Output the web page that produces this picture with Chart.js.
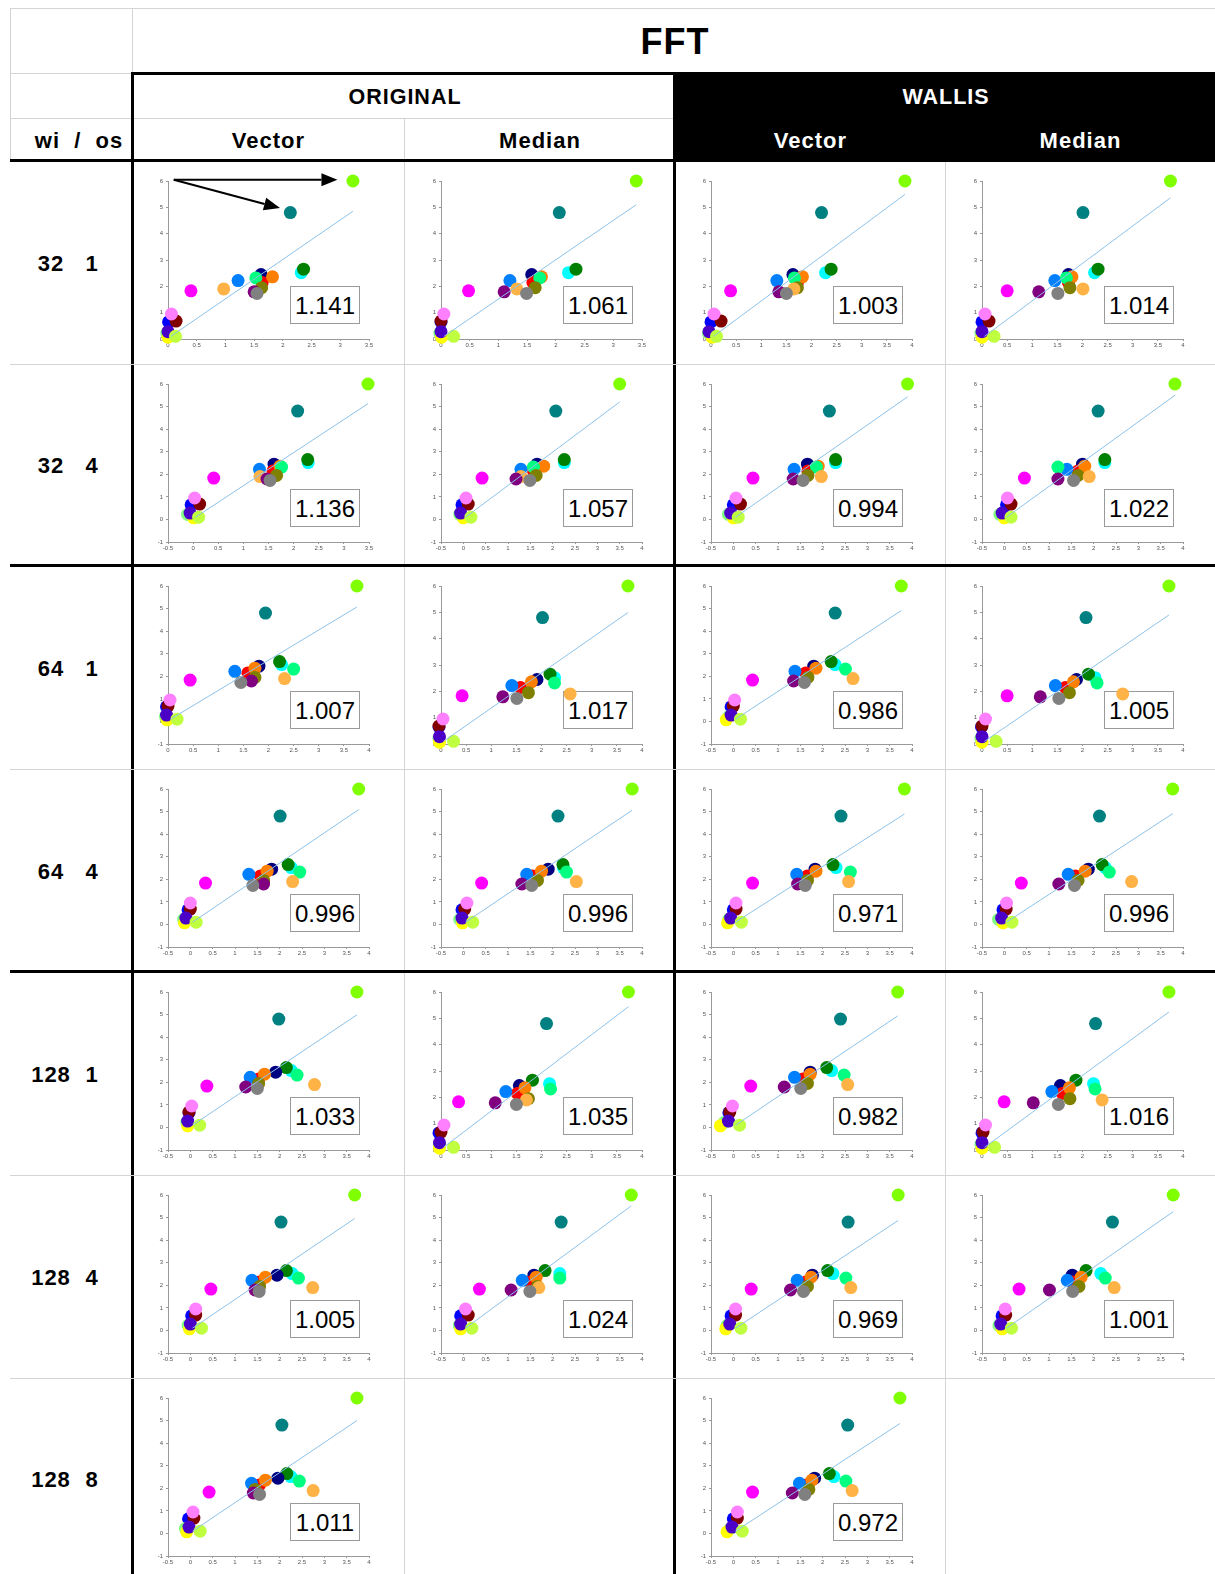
<!DOCTYPE html>
<html><head><meta charset="utf-8">
<script src="https://cdn.jsdelivr.net/npm/chart.js@4.4.1/dist/chart.umd.min.js"></script>
<style>
body{margin:0;background:#fff;font-family:"Liberation Sans",Arial,sans-serif}
#wrap{position:relative;width:1215px;height:1574px;overflow:hidden;background:#fff}
.ln{position:absolute;background:#d4d4d4}
.bk{position:absolute;background:#000}
.t{position:absolute;font-weight:bold;transform:translate(-50%,-50%);white-space:pre;color:#000;letter-spacing:1px}
.cv{position:absolute}
.box{position:absolute;border:1px solid #9a9a9a;background:#fff;font-size:24px;text-align:center;line-height:37px;color:#000;box-sizing:border-box}
</style></head>
<body><div id="wrap"></div>
<script>
// 表頭
const groupLabels=['ORIGINAL','WALLIS'];
const colLabels=['Vector','Median','Vector','Median'];
const rowLabels=[['32','1'],['32','4'],['64','1'],['64','4'],['128','1'],['128','4'],['128','8']];

// 點的顏色與參考值 (y)
const pointColors=['#80ff00','#008080','#00ffff','#008000','#000080','#ff0000','#ff8000','#0080ff','#00ff80','#808000','#ffb347','#ff00ff','#800080','#808080','#0000ff','#800000','#ff80ff','#80ff80','#ffff00','#4b00c8','#c0ff40'];
const refY=[6.0,4.8,2.52,2.65,2.45,2.15,2.36,2.22,2.32,1.95,1.9,1.83,1.79,1.73,0.65,0.68,0.95,0.22,0.07,0.28,0.1];

// 各格的估計值 (x)
const ov32_1=[3.22,2.13,2.32,2.36,1.62,1.64,1.82,1.22,1.53,1.63,0.97,0.40,1.5,1.55,0.01,0.14,0.06,-0.02,0.0,0.0,0.13];
const om32_1=[3.4,2.06,2.22,2.35,1.58,1.6,1.75,1.2,1.72,1.64,1.32,0.48,1.1,1.49,0.0,0.0,0.05,-0.02,0.01,0.0,0.22];
const wv32_1=[3.86,2.2,2.28,2.39,1.63,1.72,1.82,1.31,1.66,1.72,1.65,0.39,1.35,1.5,0.0,0.2,0.06,-0.05,0.02,-0.04,0.11];
const wm32_1=[3.75,2.01,2.24,2.31,1.72,1.72,1.79,1.45,1.68,1.75,2.01,0.5,1.13,1.51,0.0,0.14,0.06,-0.02,0.0,0.0,0.24];
const ov32_4=[3.48,2.08,2.29,2.28,1.61,1.59,1.73,1.32,1.76,1.66,1.33,0.41,1.47,1.53,-0.04,0.13,0.03,-0.11,0.01,-0.06,0.11];
const om32_4=[3.5,2.07,2.26,2.26,1.65,1.57,1.8,1.29,1.57,1.63,1.29,0.42,1.18,1.49,-0.03,0.11,0.06,-0.08,0.0,-0.06,0.17];
const wv32_4=[3.9,2.15,2.29,2.29,1.66,1.67,1.9,1.36,1.86,1.67,1.97,0.44,1.34,1.56,0.0,0.16,0.06,-0.11,0.0,-0.06,0.11];
const wm32_4=[3.82,2.1,2.25,2.25,1.75,1.65,1.8,1.4,1.2,1.65,1.9,0.45,1.2,1.55,0.05,0.15,0.07,-0.1,0.0,-0.05,0.15];
const ov64_1=[3.76,1.94,2.26,2.22,1.81,1.59,1.73,1.33,2.5,1.73,2.32,0.44,1.66,1.45,-0.03,0.0,0.04,-0.05,-0.02,-0.03,0.18];
const om64_1=[3.72,2.02,2.26,2.17,1.91,1.58,1.8,1.41,2.26,1.74,2.57,0.42,1.23,1.51,-0.04,-0.04,0.04,-0.04,-0.03,-0.03,0.25];
const wv64_1=[3.76,2.28,2.28,2.19,1.8,1.62,1.85,1.38,2.51,1.67,2.68,0.43,1.35,1.59,-0.05,0.0,0.03,-0.1,-0.16,-0.05,0.16];
const wm64_1=[3.72,2.07,2.25,2.12,1.88,1.66,1.82,1.46,2.29,1.74,2.8,0.5,1.16,1.53,-0.01,0.0,0.07,-0.02,0.0,0.0,0.28];
const ov64_4=[3.77,2.01,2.26,2.19,1.82,1.57,1.72,1.31,2.45,1.64,2.29,0.34,1.64,1.4,-0.05,0.0,0.0,-0.15,-0.13,-0.1,0.13];
const om64_4=[3.78,2.12,2.24,2.23,1.9,1.55,1.75,1.42,2.31,1.66,2.53,0.41,1.31,1.53,-0.03,0.03,0.08,-0.08,-0.02,-0.03,0.21];
const wv64_4=[3.83,2.41,2.3,2.23,1.83,1.66,1.85,1.42,2.62,1.66,2.58,0.43,1.44,1.61,0.0,0.06,0.06,-0.1,-0.13,-0.06,0.18];
const wm64_4=[3.77,2.13,2.26,2.19,1.88,1.59,1.81,1.43,2.35,1.65,2.85,0.38,1.22,1.57,-0.03,0.04,0.05,-0.13,-0.03,-0.06,0.17];
const ov128_1=[3.73,1.98,2.26,2.15,1.91,1.53,1.66,1.34,2.39,1.53,2.78,0.37,1.24,1.5,-0.03,-0.03,0.03,-0.08,-0.06,-0.06,0.21];
const om128_1=[3.73,2.1,2.16,1.82,1.56,1.52,1.67,1.29,2.18,1.74,1.7,0.35,1.08,1.5,-0.04,0.0,0.06,-0.03,-0.03,-0.03,0.25];
const wv128_1=[3.68,2.4,2.2,2.09,1.72,1.56,1.72,1.37,2.48,1.66,2.56,0.39,1.14,1.51,-0.1,-0.08,-0.02,-0.2,-0.29,-0.11,0.14];
const wm128_1=[3.72,2.26,2.22,1.87,1.56,1.6,1.74,1.39,2.25,1.75,2.39,0.44,1.02,1.52,0.0,0.02,0.07,-0.02,0.0,0.0,0.25];
const ov128_4=[3.68,2.03,2.28,2.15,1.94,1.55,1.68,1.38,2.42,1.55,2.74,0.46,1.45,1.54,0.03,0.12,0.12,-0.05,-0.02,0.0,0.25];
const om128_4=[3.76,2.19,2.16,1.83,1.58,1.5,1.63,1.32,2.16,1.66,1.69,0.36,1.07,1.49,-0.06,0.11,0.05,-0.09,-0.06,-0.06,0.19];
const wv128_4=[3.69,2.57,2.23,2.11,1.77,1.63,1.74,1.43,2.52,1.66,2.63,0.4,1.28,1.57,-0.05,0.05,0.05,-0.14,-0.17,-0.08,0.17];
const wm128_4=[3.78,2.42,2.16,1.83,1.52,1.52,1.72,1.41,2.26,1.67,2.46,0.33,1.01,1.53,-0.05,0.03,0.02,-0.12,-0.05,-0.08,0.16];
const ov128_8=[3.73,2.05,2.25,2.16,1.96,1.55,1.68,1.37,2.44,1.45,2.75,0.42,1.41,1.55,-0.04,0.08,0.06,-0.11,-0.08,-0.03,0.22];
const wv128_8=[3.73,2.56,2.25,2.15,1.82,1.64,1.76,1.48,2.52,1.69,2.66,0.43,1.32,1.6,0.0,0.09,0.09,-0.06,-0.14,-0.03,0.2];

const cellX=[
  [ov32_1,om32_1,wv32_1,wm32_1],
  [ov32_4,om32_4,wv32_4,wm32_4],
  [ov64_1,om64_1,wv64_1,wm64_1],
  [ov64_4,om64_4,wv64_4,wm64_4],
  [ov128_1,om128_1,wv128_1,wm128_1],
  [ov128_4,om128_4,wv128_4,wm128_4],
  [ov128_8,null,wv128_8,null]
];
// 框內數字
const ratios=[[1.141,1.061,1.003,1.014],[1.136,1.057,0.994,1.022],[1.007,1.017,0.986,1.005],[0.996,0.996,0.971,0.996],[1.033,1.035,0.982,1.016],[1.005,1.024,0.969,1.001],[1.011,null,0.972,null]];
// 擬合線終點 y
const fitEndY=[[4.85,5.1,5.49,5.36],[5.13,5.2,5.43,5.5],[5.07,4.99,4.91,4.9],[5.09,5.06,4.89,4.91],[4.99,5.44,4.94,5.24],[4.96,5.52,4.87,5.26],[5.0,null,4.87,null]];
const fitStart=[0.05,0.1];
// 軸範圍
const xMinT=[[0,0,0,0],[-0.5,-0.5,-0.5,-0.5],[0,0,-0.5,0],[-0.5,-0.5,-0.5,-0.5],[-0.5,0,-0.5,0],[-0.5,-0.5,-0.5,-0.5],[-0.5,null,-0.5,null]];
const xMaxT=[[3.5,3.5,4,4],[3.5,4,4,4],[4,4,4,4],[4,4,4,4],[4,4,4,4],[4,4,4,4],[4,null,4,null]];
const yMinT=[[0,0,0,0],[-1,-1,-1,-1],[-1,0,-1,0],[-1,-1,-1,-1],[-1,0,-1,0],[-1,-1,-1,-1],[-1,null,-1,null]];
// 第一格的箭頭 (資料座標)
const arrowTail=[0.1,6.05];
const arrowTips=[[2.95,6.05],[1.95,4.97]];

const colX=[10,132,405,675,946,1215];
const rowY=[161,364,566,769,972,1175,1378,1574];
const wrap=document.getElementById('wrap');
function el(cls,l,t,w,h,txt){const d=document.createElement('div');d.className=cls;d.style.left=l+'px';d.style.top=t+'px';if(w!=null)d.style.width=w+'px';if(h!=null)d.style.height=h+'px';if(txt!=null)d.textContent=txt;wrap.appendChild(d);return d;}
function txt(s,x,y,size,color){const d=el('t',x,y,null,null,s);d.style.fontSize=size+'px';if(color)d.style.color=color;return d;}

// 表格線
el('ln',10,8,1205,1);el('ln',10,8,1,153);el('ln',132,8,1,65);el('ln',10,73,122,1);el('ln',10,118,665,1);
el('bk',675,72,540,90);
el('bk',131,72,1084,3);
el('bk',131,72,3,1502);el('bk',673,72,3,1502);
[1,3,5,6].forEach(i=>el('ln',10,rowY[i],1205,1));
el('ln',404,118,1,1456);el('ln',945,161,1,1413);
[0,2,4].forEach(i=>el('bk',10,rowY[i]-2,1205,3));

// 標題文字
txt('FFT',675,42,36);
txt(groupLabels[0],405,97,21.5);txt(groupLabels[1],946,97,21.5,'#fff');
colLabels.forEach((s,i)=>txt(s,(colX[i+1]+colX[i+2])/2,141,22,i>=2?'#fff':null));
txt('wi  /  os',79,141,22);
rowLabels.forEach((r,i)=>{const y=i==6?1480:(rowY[i]+rowY[i+1])/2+1;txt(r[0],51,y,22);txt(r[1],92,y,22);});

const arrowPlugin={id:'arrows',afterDatasetsDraw(c){
  const ctx=c.ctx,xs=c.scales.x,ys=c.scales.y;
  const tx=xs.getPixelForValue(arrowTail[0]),ty=ys.getPixelForValue(arrowTail[1]);
  ctx.save();ctx.strokeStyle='#000';ctx.fillStyle='#000';ctx.lineWidth=2;
  arrowTips.forEach(([ax,ay])=>{
    const px=xs.getPixelForValue(ax),py=ys.getPixelForValue(ay);
    const a=Math.atan2(py-ty,px-tx),L=16,W=6.5;
    const bx=px-L*Math.cos(a),by=py-L*Math.sin(a);
    ctx.beginPath();ctx.moveTo(tx,ty);ctx.lineTo(bx,by);ctx.stroke();
    ctx.beginPath();ctx.moveTo(px,py);
    ctx.lineTo(bx+W*Math.sin(a),by-W*Math.cos(a));
    ctx.lineTo(bx-W*Math.sin(a),by+W*Math.cos(a));ctx.closePath();ctx.fill();
  });
  ctx.restore();
}};

function axis(min,max,step,isY){
  return{type:'linear',min,max,
    ticks:{stepSize:step,autoSkip:false,maxRotation:0,font:{size:6,family:'Liberation Sans'},color:'#555',padding:isY?3:1,callback:v=>String(Math.round(v*10)/10)},
    grid:{display:true,drawOnChartArea:false,drawTicks:true,tickLength:2,color:'#999'},
    border:{color:'#999',width:1},
    afterFit:s=>{if(isY)s.width=16;else s.height=12;s.paddingTop=0;s.paddingBottom=0;s.paddingLeft=0;s.paddingRight=0;}};
}

cellX.forEach((row,r)=>row.forEach((xs,c)=>{
  if(!xs)return;
  // 數值框放在畫布下方，點會蓋在框上
  el('box',colX[c+1]+158,rowY[r]+125,70,38,ratios[r][c].toFixed(3));
  const cv=document.createElement('canvas');cv.className='cv';
  cv.width=270;cv.height=203;cv.style.left=colX[c+1]+'px';cv.style.top=rowY[r]+'px';
  wrap.appendChild(cv);
  new Chart(cv,{
    type:'scatter',
    data:{datasets:[
      {data:[{x:fitStart[0],y:fitStart[1]},{x:xs[0],y:fitEndY[r][c]}],showLine:true,borderColor:'#8cc2ea',borderWidth:1,pointRadius:0,order:0,clip:false},
      {data:xs.map((x,i)=>({x,y:refY[i]})),backgroundColor:pointColors,borderColor:pointColors,pointRadius:6.5,pointBorderWidth:0,order:1,clip:false}
    ]},
    options:{responsive:false,animation:false,events:[],
      layout:{padding:{left:20,right:33,top:20,bottom:13}},
      plugins:{legend:{display:false},tooltip:{enabled:false}},
      scales:{x:axis(xMinT[r][c],xMaxT[r][c],0.5,false),y:axis(yMinT[r][c],6,1,true)}},
    plugins:(r==0&&c==0)?[arrowPlugin]:[]
  });
}));
</script></body></html>
